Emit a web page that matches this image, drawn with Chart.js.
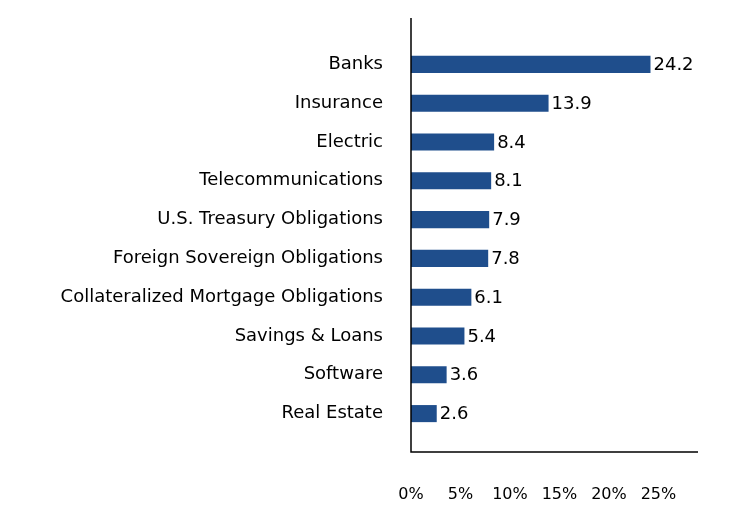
<!DOCTYPE html>
<html><head><meta charset="utf-8">
<script src="https://cdn.jsdelivr.net/npm/chart.js@4"></script>
<style>html,body{margin:0;padding:0;background:#fff}#w{width:744px;height:528px}</style>
</head><body><div id="w"><canvas id="c"></canvas></div>
<script>
const categories = ["Banks","Insurance","Electric","Telecommunications","U.S. Treasury Obligations","Foreign Sovereign Obligations","Collateralized Mortgage Obligations","Savings & Loans","Software","Real Estate"];
const values = [24.2,13.9,8.4,8.1,7.9,7.8,6.1,5.4,3.6,2.6];
const xTicks = [0,5,10,15,20,25];
const FONT = "'DejaVu Sans', sans-serif";

const extras = {
  id:'extras',
  afterDatasetsDraw(chart){
    const {ctx, chartArea:a} = chart;
    const meta = chart.getDatasetMeta(0);
    ctx.save();
    ctx.fillStyle='#000'; ctx.font='18px '+FONT; ctx.textBaseline='middle'; ctx.textAlign='left';
    meta.data.forEach((b,i)=>{ ctx.fillText(values[i].toFixed(1), b.x+3, b.y+1); });
    ctx.strokeStyle='#000'; ctx.lineWidth=1.5;
    ctx.beginPath();
    ctx.moveTo(a.left, a.top-27); ctx.lineTo(a.left, a.bottom+19); ctx.lineTo(a.right, a.bottom+19);
    ctx.stroke();
    ctx.restore();
  }
};

new Chart(document.getElementById('c'), {
  type:'bar',
  data:{labels:categories, datasets:[{data:values, backgroundColor:'#1f4e8c', barPercentage:0.44, categoryPercentage:1}]},
  options:{
    indexAxis:'y', responsive:true, maintainAspectRatio:false, animation:false,
    layout:{padding:{top:45,right:46,bottom:0,left:0}},
    plugins:{legend:{display:false}, tooltip:{enabled:false}},
    scales:{
      x:{min:0,max:29, grid:{display:false}, border:{display:false},
         afterBuildTicks(s){ s.ticks = xTicks.map(v=>({value:v})); },
         afterFit(s){ s.height = 95; },
         ticks:{padding:44, color:'#000', maxRotation:0, font:{family:FONT,size:16}, callback:v=>v+'%'}},
      y:{grid:{display:false}, border:{display:false},
         afterFit(s){ s.width = 411; },
         ticks:{padding:20, color:'#000', font:{family:FONT,size:18}}}
    }
  },
  plugins:[extras]
});
</script></body></html>
